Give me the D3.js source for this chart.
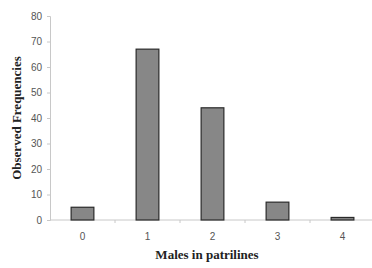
<!DOCTYPE html>
<html>
<head>
<meta charset="utf-8">
<script src="https://cdn.jsdelivr.net/npm/d3@7"></script>
<style>
  body { margin: 0; background: #fff; }
  svg { display: block; }
</style>
</head>
<body>
<svg width="372" height="268"></svg>
<script>
"use strict";

// data
const categories = ["0", "1", "2", "3", "4"];
const frequencies = [5, 67, 44, 7, 1];
const yTicks = [0, 10, 20, 30, 40, 50, 60, 70, 80];

const svg = d3.select("svg");
const margin = { top: 16, left: 50, right: 0, bottom: 48 };
const width = +svg.attr("width");
const height = +svg.attr("height");
const innerWidth = width - margin.left - margin.right;
const innerHeight = height - margin.top - margin.bottom;

const g = svg.append("g").attr("transform", `translate(${margin.left},${margin.top})`);

// category bands are 65px wide, last one runs into the right edge
const bandW = 65;
const xTickScale = d3.scaleBand().domain(categories).range([0, bandW * categories.length]);
const x = d3.scaleBand().domain(categories).range([0, bandW * categories.length]).paddingInner(0.65).paddingOuter(0.325);
const y = d3.scaleLinear().domain([0, 80]).range([innerHeight, 0]);

// y axis
const yAxis = g.append("g").call(d3.axisLeft(y).tickValues(yTicks).tickSize(3).tickPadding(5));
yAxis.select(".domain").attr("stroke", "#c8c8c8");
yAxis.selectAll(".tick line").attr("stroke", "#c8c8c8");
yAxis.selectAll("text")
  .attr("fill", "#555")
  .style("font-family", "Liberation Sans, Arial, sans-serif")
  .style("font-size", "10px");

// x axis, ticks at band boundaries
const xAxis = g.append("g").attr("transform", `translate(0,${innerHeight})`);
xAxis.append("line")
  .attr("x1", 0).attr("x2", innerWidth)
  .attr("stroke", "#c8c8c8");
xAxis.selectAll(".sep")
  .data(categories.slice(1))
  .enter()
  .append("line")
  .attr("x1", (d) => xTickScale(d))
  .attr("x2", (d) => xTickScale(d))
  .attr("y1", 0).attr("y2", 3)
  .attr("stroke", "#c8c8c8");
xAxis.selectAll(".lab")
  .data(categories)
  .enter()
  .append("text")
  .attr("x", (d) => xTickScale(d) + xTickScale.bandwidth() / 2)
  .attr("y", 20)
  .attr("text-anchor", "middle")
  .attr("fill", "#555")
  .style("font-family", "Liberation Sans, Arial, sans-serif")
  .style("font-size", "10px")
  .text((d) => d);

// bars
g.selectAll("rect")
  .data(frequencies)
  .enter()
  .append("rect")
  .attr("x", (d, i) => x(categories[i]))
  .attr("y", (d) => y(d))
  .attr("width", x.bandwidth())
  .attr("height", (d) => innerHeight - y(d))
  .attr("fill", "#878787")
  .attr("stroke", "#2a2a2a")
  .attr("stroke-width", 1.2);

// axis titles
svg.append("text")
  .attr("x", 207)
  .attr("y", 259)
  .attr("text-anchor", "middle")
  .style("font-family", "Liberation Serif, Times New Roman, serif")
  .style("font-weight", "bold")
  .style("font-size", "13px")
  .attr("fill", "#222")
  .text("Males in patrilines");

svg.append("text")
  .attr("transform", "translate(21,118) rotate(-90)")
  .attr("text-anchor", "middle")
  .style("font-family", "Liberation Serif, Times New Roman, serif")
  .style("font-weight", "bold")
  .style("font-size", "13px")
  .attr("fill", "#222")
  .text("Observed Frequencies");
</script>
</body>
</html>
